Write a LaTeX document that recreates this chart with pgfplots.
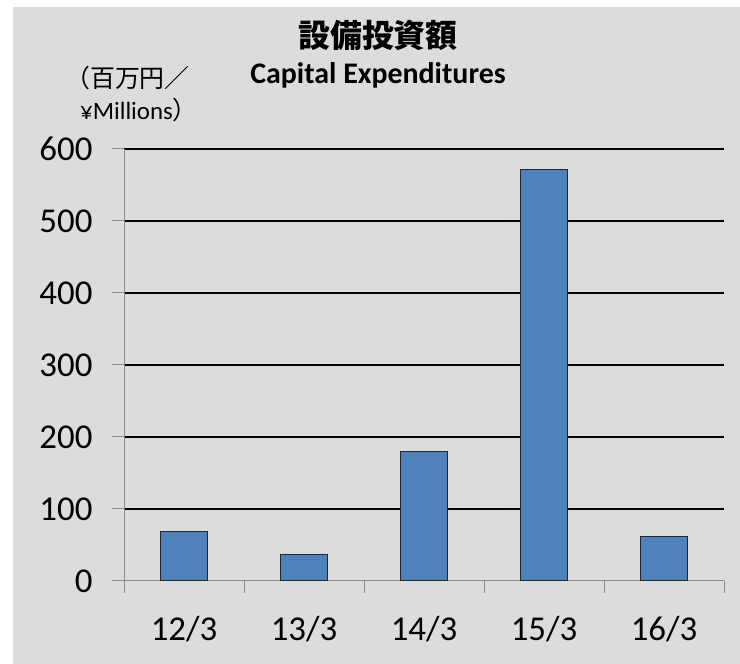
\documentclass[border=0pt]{standalone}
\usepackage{pgfplots}
\pgfplotsset{compat=1.18}
\usepackage{fontspec}
\setmainfont{Carlito}
\newfontfamily\cjk{Noto Sans CJK JP}
\definecolor{bg}{HTML}{DCDCDC}
\definecolor{barblue}{HTML}{4F81BD}
\definecolor{axgray}{HTML}{8C8C8C}
\begin{document}
\begin{tikzpicture}[x=1bp,y=1bp]
\fill[white] (0,0) rectangle (740,664);
\fill[bg] (13,0) rectangle (740,657);
\node[font=\cjk\bfseries\fontsize{32}{38}\selectfont] at (378,629) {設備投資額};
\node[font=\bfseries\fontsize{30}{36}\selectfont] at (378,589) {Capital Expenditures};
\node[font=\fontsize{25}{30}\selectfont, anchor=west, inner sep=0] at (65,586) {\cjk（百万円／};
\node[font=\fontsize{25}{30}\selectfont, anchor=west, inner sep=0] at (80,554) {¥Millions{\cjk）}};
\begin{axis}[
  at={(124bp,83bp)}, anchor=south west, scale only axis,
  width=600bp, height=432bp,
  xmin=-0.5, xmax=4.5, ymin=0, ymax=600,
  clip=false,
  axis x line*=bottom, axis y line*=left,
  axis line style={axgray, line width=1bp, -},
  xtick={0,1,2,3,4},
  xticklabels={12/3,13/3,14/3,15/3,16/3},
  minor xtick={-0.5,0.5,1.5,2.5,3.5,4.5},
  major x tick style={draw=none},
  minor x tick style={axgray, line width=1bp},
  minor tick length=12bp,
  ytick={100,200,...,600},
  extra y ticks={0},
  extra y tick style={grid=none},
  y tick style={axgray, line width=1bp},
  major tick length=12bp,
  tick align=outside,
  ymajorgrids,
  grid style={black, line width=1.5bp},
  /pgf/number format/assume math mode=true,
  yticklabel style={font=\fontsize{35}{40}\selectfont, anchor=east, xshift=-16bp},
  xticklabel style={font=\fontsize{35}{40}\selectfont, anchor=north, yshift=-20bp},
  ybar, bar width=0.39,
]
\addplot[fill=barblue, draw=black!85, line width=1bp] coordinates {(0,69) (1,37) (2,180) (3,572) (4,62)};
\end{axis}
\end{tikzpicture}
\end{document}
